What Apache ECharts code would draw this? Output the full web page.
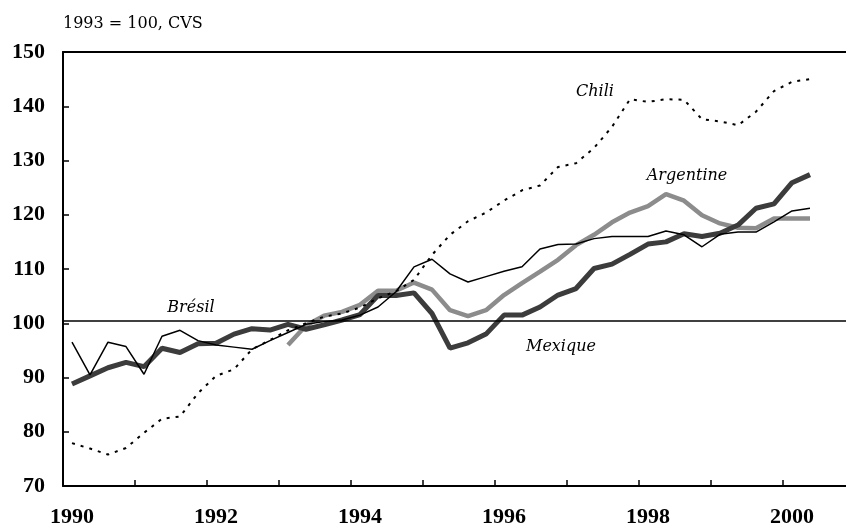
<!DOCTYPE html>
<html>
<head>
<meta charset="utf-8">
<script src="https://cdn.jsdelivr.net/npm/echarts@6/dist/echarts.min.js"></script>
<style>
  html,body{margin:0;padding:0;background:#fff;}
  #chart{width:846px;height:530px;}
</style>
</head>
<body>
<div id="chart"></div>
<script>
// trimestres 1990T1 .. 2000T2
let startYear=1990
let yearLabels=['1990','1992','1994','1996','1998','2000']

let mexique=[88.8,90.3,91.8,92.8,92.0,95.4,94.6,96.2,96.3,98.0,99.0,98.75,99.8,98.9,99.7,100.6,101.6,105.1,105.1,105.6,101.8,95.4,96.4,98.0,101.5,101.5,103.0,105.2,106.4,110.1,110.9,112.7,114.6,115.0,116.5,116.0,116.6,118.1,121.2,122.0,125.9,127.4]
let bresil=[96.5,90.5,96.5,95.7,90.6,97.6,98.7,96.8,96.0,95.6,95.2,96.8,98.3,99.8,100.3,100.6,101.5,103.0,105.8,110.4,111.8,109.1,107.6,108.6,109.6,110.4,113.7,114.5,114.6,115.6,116.0,116.0,116.0,117.0,116.3,114.1,116.4,116.8,116.8,118.7,120.7,121.2]
let argentine=[null,null,null,null,null,null,null,null,null,null,null,null,96.0,99.6,101.4,102.1,103.4,106.0,106.0,107.5,106.2,102.4,101.3,102.4,105.2,107.4,109.5,111.7,114.4,116.3,118.6,120.4,121.6,123.8,122.6,119.9,118.4,117.6,117.5,119.3,119.3,119.3]
let chili=[77.9,76.9,75.8,77.0,79.8,82.4,82.8,87.1,90.3,91.5,95.2,96.9,98.7,100.0,101.2,101.8,102.9,104.6,105.9,108.0,112.6,116.3,118.8,120.4,122.6,124.5,125.4,128.8,129.5,132.3,136.2,141.3,140.8,141.3,141.2,137.6,137.2,136.5,139.0,142.8,144.5,145.0]
let refLevel=100.5

// point au milieu du trimestre
function toPoints(arr){
  return arr.map((v,i)=>[i+0.5,v])
}

let chart=echarts.init(document.getElementById('chart'))
let axisFont={fontFamily:'Liberation Serif',fontWeight:'bold',fontSize:22,color:'#000'}
let labelFont='italic 16px "DejaVu Serif"'
let option={
  animation:false,
  backgroundColor:'#fff',
  grid:{left:63,right:0,top:52,bottom:44},
  xAxis:[
    {
      type:'value',
      min:0,
      max:43.5,
      interval:4,
      splitLine:{show:false},
      axisLine:{lineStyle:{color:'#000',width:2}},
      axisTick:{inside:true,length:6,lineStyle:{color:'#000',width:1.5}},
      axisLabel:{
        margin:20,
        showMaxLabel:false,
        formatter:(v)=>{
          if(v%8!==0) return ''
          let y=String(startYear+v/4)
          return yearLabels.indexOf(y)>=0 ? '{y|'+y+'}' : ''
        },
        rich:{y:Object.assign({padding:[0,0,0,18]},axisFont)}
      }
    },
    {
      type:'value',
      position:'top',
      min:0,
      max:43.5,
      splitLine:{show:false},
      axisLine:{show:true,lineStyle:{color:'#000',width:2}},
      axisTick:{show:false},
      axisLabel:{show:false}
    }
  ],
  yAxis:{
    type:'value',
    min:70,
    max:150,
    interval:10,
    splitLine:{show:false},
    axisLine:{show:true,lineStyle:{color:'#000',width:2}},
    axisTick:{show:true,inside:true,length:6,lineStyle:{color:'#000',width:1.5}},
    axisLabel:Object.assign({margin:18},axisFont)
  },
  series:[
    {
      name:'Argentine',
      type:'line',
      data:toPoints(argentine),
      showSymbol:false,
      lineStyle:{color:'#8c8c8c',width:4.5},
      z:2
    },
    {
      name:'Mexique',
      type:'line',
      data:toPoints(mexique),
      showSymbol:false,
      lineStyle:{color:'#3c3c3c',width:5},
      z:3
    },
    {
      name:'Chili',
      type:'line',
      data:toPoints(chili),
      showSymbol:false,
      lineStyle:{color:'#000',width:2,type:[3,6]},
      z:4
    },
    {
      name:'Brésil',
      type:'line',
      data:toPoints(bresil),
      showSymbol:false,
      lineStyle:{color:'#000',width:1.5},
      z:5,
      markLine:{
        silent:true,
        symbol:'none',
        label:{show:false},
        lineStyle:{color:'#000',width:1.5,type:'solid'},
        data:[{yAxis:refLevel}]
      }
    }
  ],
  graphic:[
    {type:'text',left:63,top:16,style:{text:'1993 = 100, CVS',font:'16px "DejaVu Serif"',fill:'#000'}},
    {type:'text',x:595,y:92,style:{text:'Chili',font:labelFont,fill:'#000',align:'center',verticalAlign:'middle'}},
    {type:'text',x:687,y:176,style:{text:'Argentine',font:labelFont,fill:'#000',align:'center',verticalAlign:'middle'}},
    {type:'text',x:191,y:308,style:{text:'Brésil',font:labelFont,fill:'#000',align:'center',verticalAlign:'middle'}},
    {type:'text',x:561,y:347,style:{text:'Mexique',font:labelFont,fill:'#000',align:'center',verticalAlign:'middle'}}
  ]
}
chart.setOption(option)
</script>
</body>
</html>
